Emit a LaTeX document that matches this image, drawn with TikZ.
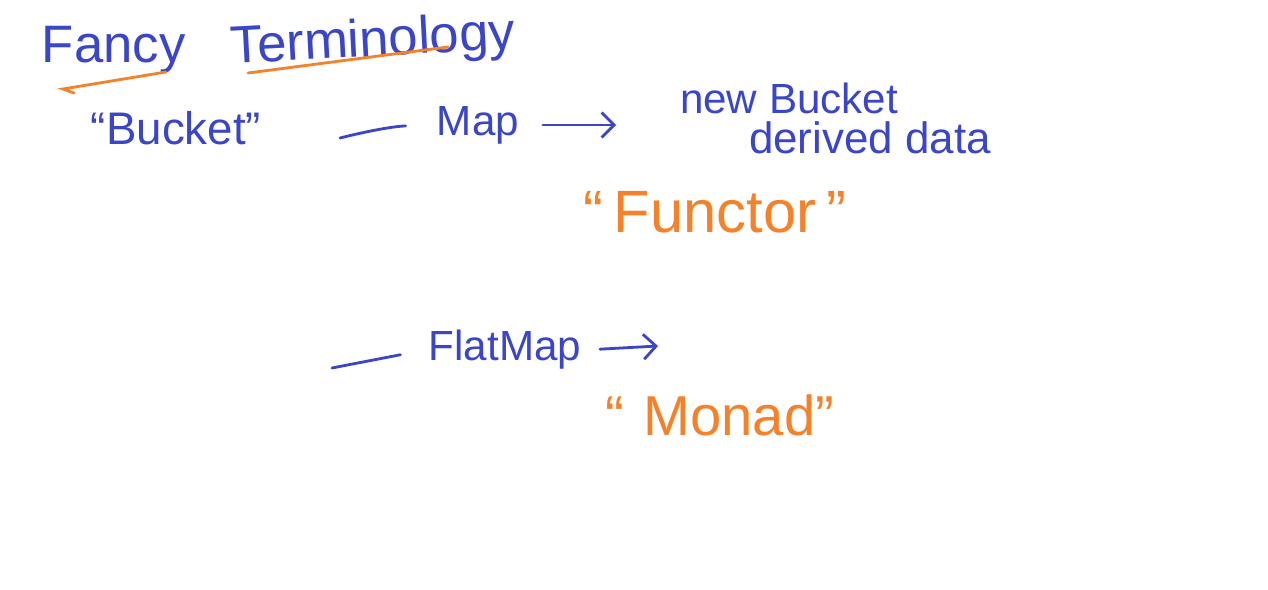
\documentclass[tikz,border=0pt]{standalone}
\usepackage{fontspec}
\setmainfont{Liberation Sans}
\usetikzlibrary{arrows.meta, positioning, calc}
\definecolor{penBlue}{HTML}{3B45C8}
\definecolor{penOrange}{HTML}{F5822A}
\tikzset{
  inkB/.style={text=penBlue, inner sep=2pt},
  inkO/.style={text=penOrange, inner sep=2pt},
  strokeB/.style={draw=penBlue, line width=1.6pt, line cap=round},
  strokeO/.style={draw=penOrange, line width=1.6pt, line cap=round},
  arrowB/.style={strokeB, -{Straight Barb[length=2.5mm, width=5mm]}},
}

\begin{document}
\begin{tikzpicture}[x=0.02cm, y=-0.02cm]
    \useasboundingbox (0,0) rectangle (1268,590);
    % heading
    \node[inkB, font=\fontsize{30}{36}\selectfont, anchor=base west] (fancy) at (38,63) {Fancy};
    \node[inkB, font=\fontsize{30}{36}\selectfont, anchor=base west, rotate=3] (term) at (228,64) {Terminology};
    \draw[strokeO] (166,72) -- (63,89) -- (74,93);
    \draw[strokeO] (248,73) -- (448,47);
    % map row
    \node[inkB, font=\fontsize{26}{30}\selectfont] (bucket) at (176,128) {``Bucket''};
    \node[inkB, font=\fontsize{24}{28}\selectfont] (map) at (478,125) {Map};
    \node[inkB, font=\fontsize{24}{28}\selectfont] (newb) at (789,98) {new Bucket};
    \node[inkB, font=\fontsize{25}{30}\selectfont] (derived) at (870,138) {derived data};
    \node[inkO, font=\fontsize{34}{40}\selectfont] (functor) at (715,212) {``\,Functor\,''};
    \coordinate (mapin) at (340,138);
    \draw[strokeB, shorten >=0.55cm] (mapin) to[bend left=6] (map.west);
    \draw[arrowB, shorten <=0.4cm, shorten >=1.2cm] (map.east) -- (map.east -| newb.west);
    % flatmap row
    \coordinate (fmstart) at (332,368);
    \coordinate (fmend) at (658,346);
    \node[inkB, font=\fontsize{24}{28}\selectfont] (flatmap) at (505,350) {FlatMap};
    \node[inkO, font=\fontsize{32}{38}\selectfont] (monad) at (720,415) {``\,\,Monad''};
    \draw[strokeB, shorten >=0.5cm] (fmstart) -- (flatmap.west);
    \draw[arrowB, shorten <=0.3cm] (flatmap.east) -- (fmend);
  \end{tikzpicture}
\end{document}
